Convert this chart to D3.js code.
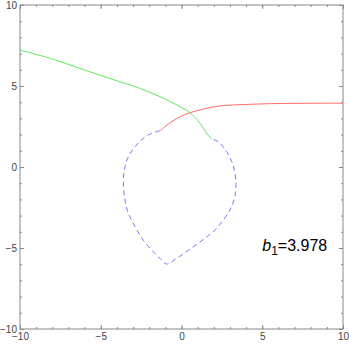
<!DOCTYPE html>
<html>
<head>
<meta charset="utf-8">
<script src="https://cdn.jsdelivr.net/npm/d3@7"></script>
<style>
body { margin: 0; background: #fff; }
svg { display: block; }
</style>
</head>
<body>
<svg id="chart" width="349" height="344"></svg>
<script>
// curves, [x, y] in data units
var greenCurve = [[-10, 7.22], [-7.94, 6.65], [-5.87, 5.94], [-3.84, 5.27], [-2.60, 4.86],
  [-1.33, 4.34], [-0.09, 3.72], [0.53, 3.35], [1.15, 2.70], [1.56, 2.08], [1.87, 1.71]];
var redCurve = [[-1.33, 2.24], [-0.71, 2.73], [-0.09, 3.10], [0.53, 3.35], [1.36, 3.58],
  [2.38, 3.77], [4.24, 3.87], [6.10, 3.92], [10, 3.94]];
var blueCurve = [[-1.33, 2.24], [-1.85, 2.08], [-2.37, 1.77], [-2.88, 1.25], [-3.29, 0.64],
  [-3.50, 0.02], [-3.60, -0.80], [-3.50, -2.04], [-3.29, -2.86], [-2.88, -3.68],
  [-2.37, -4.51], [-1.85, -5.12], [-1.33, -5.64], [-0.92, -5.99], [-0.30, -5.64],
  [0.73, -4.92], [1.46, -4.40], [2.07, -3.89], [2.59, -3.27], [3.00, -2.65],
  [3.25, -2.04], [3.37, -1.22], [3.31, -0.39], [3.11, 0.33], [2.80, 0.94],
  [2.28, 1.56], [1.87, 1.71]];
var majorTicks = [-10, -5, 0, 5, 10];
var minorTicks = d3.range(-10, 11, 1);
var label = {name: "b", sub: "1", value: "=3.978"};

var svg = d3.select("#chart"),
    margin = {top: 5, right: 6, bottom: 15, left: 20},
    width = 349 - margin.left - margin.right,
    height = 344 - margin.top - margin.bottom,
    g = svg.append("g").attr("transform", "translate(" + margin.left + "," + margin.top + ")");

var x = d3.scaleLinear().domain([-10, 10]).range([0, width]);
var y = d3.scaleLinear().domain([-10, 10]).range([height, 0]);

var fmt = function(d) { return d < 0 ? "\u2212" + Math.abs(d) : d; };

function styleAxis(sel) {
  sel.select(".domain").remove();
  sel.selectAll(".tick line").attr("stroke", "#888");
  sel.selectAll(".tick text").attr("fill", "#444")
    .style("font-family", "Liberation Sans, Arial, sans-serif").style("font-size", "10px");
}

// minor ticks on all four sides
[[d3.axisBottom(x), "translate(0," + height + ")"],
 [d3.axisTop(x), null],
 [d3.axisLeft(y), null],
 [d3.axisRight(y), "translate(" + width + ",0)"]].forEach(function(a) {
  var ax = a[0].tickValues(minorTicks).tickSize(-2).tickFormat("");
  var s = g.append("g").call(ax);
  if (a[1]) s.attr("transform", a[1]);
  styleAxis(s);
});

// major ticks, labelled on bottom and left
g.append("g").attr("transform", "translate(0," + height + ")")
  .call(d3.axisBottom(x).tickValues(majorTicks).tickSize(-4).tickPadding(4).tickFormat(fmt))
  .call(styleAxis);
g.append("g")
  .call(d3.axisLeft(y).tickValues(majorTicks).tickSize(-4).tickPadding(3).tickFormat(fmt))
  .call(styleAxis);
g.append("g")
  .call(d3.axisTop(x).tickValues(majorTicks).tickSize(-4).tickFormat(""))
  .call(styleAxis);
g.append("g").attr("transform", "translate(" + width + ",0)")
  .call(d3.axisRight(y).tickValues(majorTicks).tickSize(-4).tickFormat(""))
  .call(styleAxis);

g.append("rect")
  .attr("width", width)
  .attr("height", height)
  .attr("fill", "none")
  .attr("stroke", "#888");

var line = d3.line()
  .x(function(d) { return x(d[0]); })
  .y(function(d) { return y(d[1]); })
  .curve(d3.curveCatmullRom);

g.append("path")
  .datum(blueCurve)
  .attr("fill", "none")
  .attr("stroke", "#7878ff")
  .attr("stroke-width", 1)
  .attr("stroke-dasharray", "5,3.5")
  .attr("d", line);

g.append("path")
  .datum(redCurve)
  .attr("fill", "none")
  .attr("stroke", "#ff6a6a")
  .attr("stroke-width", 1)
  .attr("d", line);

g.append("path")
  .datum(greenCurve)
  .attr("fill", "none")
  .attr("stroke", "#5ee85e")
  .attr("stroke-width", 1)
  .attr("d", line);

var t = g.append("text")
  .attr("x", x(5.0))
  .attr("y", y(-5.2))
  .attr("fill", "#000")
  .style("font-family", "Liberation Sans, Arial, sans-serif")
  .style("font-size", "16px");
t.append("tspan").style("font-style", "italic").text(label.name);
t.append("tspan").attr("dy", 4).style("font-size", "12px").text(label.sub);
t.append("tspan").attr("dy", -4).text(label.value);
</script>
</body>
</html>
